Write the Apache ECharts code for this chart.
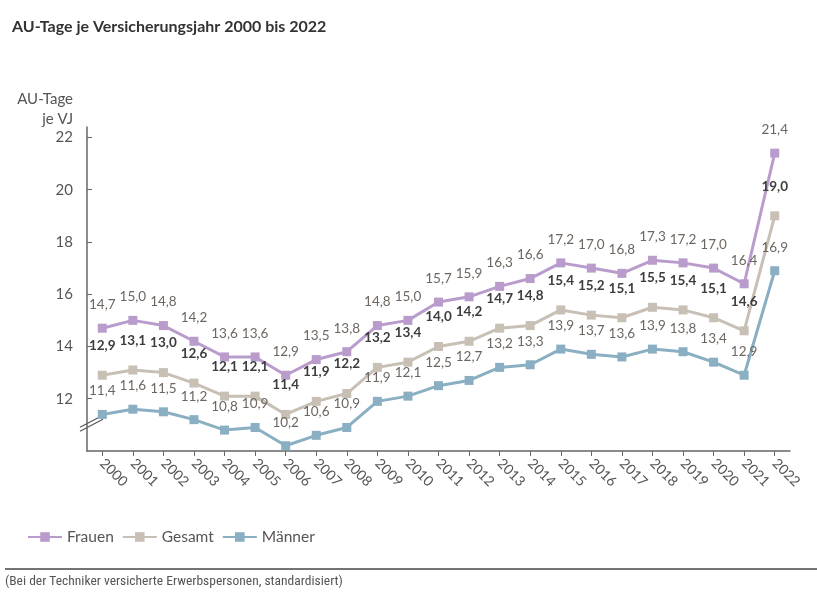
<!DOCTYPE html>
<html>
<head>
<meta charset="utf-8">
<script src="https://cdn.jsdelivr.net/npm/echarts@6/dist/echarts.min.js"></script>
<style>
html,body{margin:0;padding:0;background:#fff;}
#c{width:817px;height:594px;}
</style>
</head>
<body>
<div id="c"></div>
<script>
const years = ['2000','2001','2002','2003','2004','2005','2006','2007','2008','2009','2010','2011','2012','2013','2014','2015','2016','2017','2018','2019','2020','2021','2022'];
const frauen = [14.7,15.0,14.8,14.2,13.6,13.6,12.9,13.5,13.8,14.8,15.0,15.7,15.9,16.3,16.6,17.2,17.0,16.8,17.3,17.2,17.0,16.4,21.4];
const gesamt = [12.9,13.1,13.0,12.6,12.1,12.1,11.4,11.9,12.2,13.2,13.4,14.0,14.2,14.7,14.8,15.4,15.2,15.1,15.5,15.4,15.1,14.6,19.0];
const maenner = [11.4,11.6,11.5,11.2,10.8,10.9,10.2,10.6,10.9,11.9,12.1,12.5,12.7,13.2,13.3,13.9,13.7,13.6,13.9,13.8,13.4,12.9,16.9];
const yTicks = [12,14,16,18,20,22];

const FONT = 'Lato, "Noto Sans", sans-serif';
const fmt = p => p.value.toFixed(1).replace('.', ',');

const chart = echarts.init(document.getElementById('c'), null, {renderer:'canvas'});

function mkSeries(name, data, color, labelStyle, dist) {
  return {
    name: name,
    type: 'line',
    data: data,
    symbol: 'rect',
    symbolSize: 9,
    lineStyle: {color: color, width: 3},
    itemStyle: {color: color},
    label: Object.assign({
      show: true, position: 'top', distance: dist, formatter: fmt,
      fontFamily: FONT, fontSize: 13.5
    }, labelStyle),
    emphasis: {disabled: true},
    animation: false
  };
}

chart.setOption({
  animation: false,
  textStyle: {fontFamily: FONT},
  title: {
    text: 'AU-Tage je Versicherungsjahr 2000 bis 2022',
    left: 7, top: 14,
    textStyle: {fontFamily: FONT, fontSize: 16, fontWeight: 'bold', color: '#333'}
  },
  grid: {left: 87, top: 127, right: 27, bottom: 143, containLabel: false},
  legend: {
    left: 22, top: 524,
    itemWidth: 34, itemHeight: 12, itemGap: 8,
    textStyle: {fontFamily: FONT, fontSize: 15.5, color: '#555'},
    data: ['Frauen','Gesamt','Männer']
  },
  xAxis: {
    type: 'category',
    data: years,
    boundaryGap: true,
    axisLine: {lineStyle: {color: '#666', width: 1.5}},
    axisTick: {show: true, alignWithLabel: true, length: 5, lineStyle: {color: '#666'}},
    axisLabel: {rotate: -45, color: '#555', fontSize: 14, fontFamily: FONT, margin: 10, interval: 0}
  },
  yAxis: {
    type: 'value',
    min: 10, max: 22.4,
    name: 'AU-Tage\nje VJ',
    nameLocation: 'end',
    nameGap: -2,
    nameTextStyle: {align: 'right', color: '#555', fontSize: 15, fontFamily: FONT, lineHeight: 20, padding: [0, 14, 0, 0]},
    axisLine: {show: true, lineStyle: {color: '#666', width: 1.5}},
    axisTick: {show: true, inside: true, length: 5, customValues: yTicks, lineStyle: {color: '#666'}},
    axisLabel: {customValues: yTicks, color: '#555', fontSize: 15, fontFamily: FONT, margin: 14},
    splitLine: {show: false}
  },
  series: [
    mkSeries('Frauen', frauen, '#b99ccb', {color: '#6d6660'}, 12),
    mkSeries('Gesamt', gesamt, '#c8bfb5', {color: '#3d3d3d', fontWeight: 'bold'}, 18),
    mkSeries('Männer', maenner, '#8aafc2', {color: '#6d6660'}, 12)
  ]
});

// decorations: axis break marks, bottom rule and footnote
const yb = chart.convertToPixel({yAxisIndex: 0}, 11.1);
const x0 = 87;
chart.setOption({
  graphic: [
    {type: 'line', shape: {x1: x0 - 7, y1: yb + 5, x2: x0 + 16, y2: yb - 7}, style: {stroke: '#555', lineWidth: 1.2}},
    {type: 'line', shape: {x1: x0 - 7, y1: yb + 9, x2: x0 + 16, y2: yb - 3}, style: {stroke: '#555', lineWidth: 1.2}},
    {type: 'line', shape: {x1: 5, y1: 569, x2: 817, y2: 569}, style: {stroke: '#444', lineWidth: 1.5}},
    {type: 'text', left: 5, top: 575, style: {text: '(Bei der Techniker versicherte Erwerbspersonen, standardisiert)', fontFamily: '"Liberation Sans Narrow", "Roboto Condensed", sans-serif', fontSize: 13.5, fill: '#555'}}
  ]
});
</script>
</body>
</html>
